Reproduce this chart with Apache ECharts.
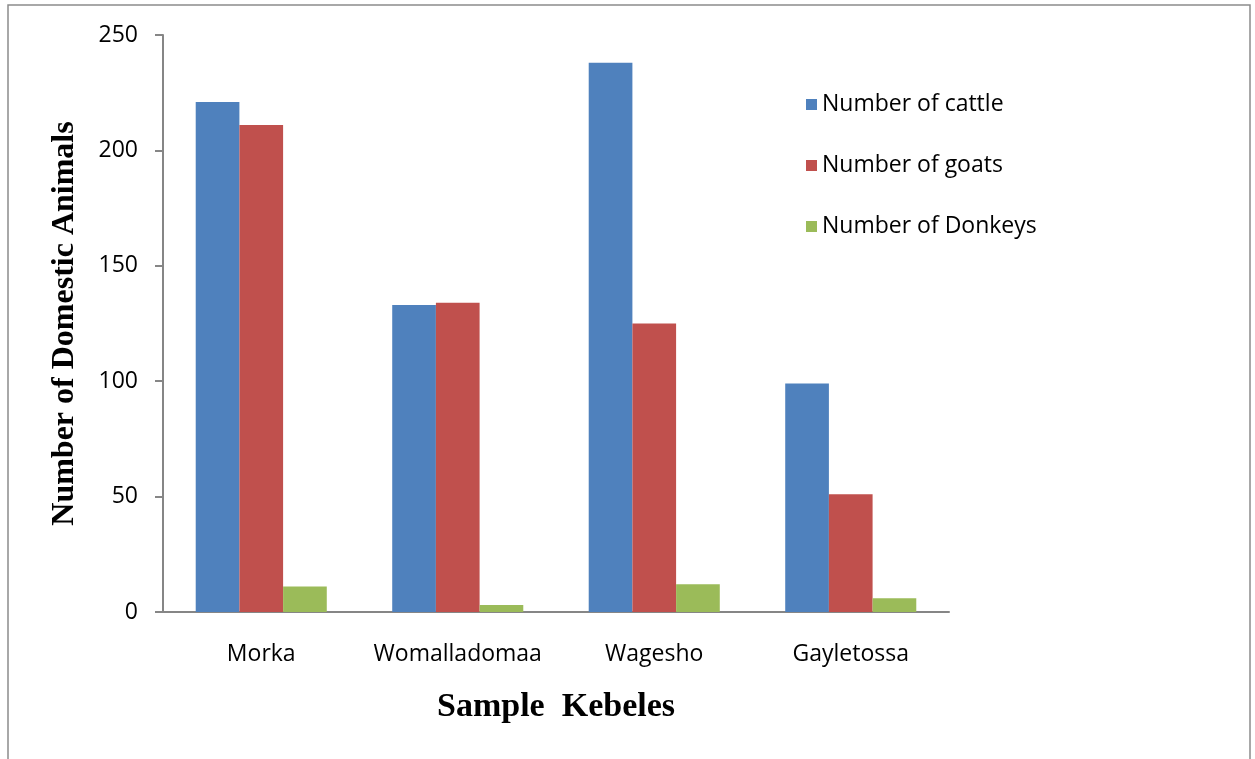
<!DOCTYPE html>
<html>
<head>
<meta charset="utf-8">
<script src="https://cdn.jsdelivr.net/npm/echarts@6/dist/echarts.min.js"></script>
<style>
html,body{margin:0;padding:0;background:#fff;}
#chart{width:1255px;height:759px;}
</style>
</head>
<body>
<div id="chart"></div>
<script>
const categories = ["Morka", "Womalladomaa", "Wagesho", "Gayletossa"];
const cattle = [221, 133, 238, 99];
const goats = [211, 134, 125, 51];
const donkeys = [11, 3, 12, 6];
const seriesNames = ["Number of cattle", "Number of goats", "Number of Donkeys"];
const yTicks = [0, 50, 100, 150, 200, 250];

const chart = echarts.init(document.getElementById('chart'), null, {renderer: 'canvas'});
const axisColor = '#868686';
const labelFont = '"Open Sans", "Noto Sans", sans-serif';
chart.setOption({
  animation: false,
  backgroundColor: '#fff',
  graphic: [{
    type: 'rect', silent: true,
    shape: {x: 8, y: 5, width: 1242, height: 820},
    style: {fill: 'none', stroke: '#8c8c8c', lineWidth: 1.5}
  }],
  grid: {left: 163, right: 306, top: 35, bottom: 147, containLabel: false},
  legend: {
    orient: 'vertical', left: 801, top: 88,
    itemWidth: 11, itemHeight: 11, itemGap: 38, icon: 'rect',
    data: seriesNames,
    textStyle: {fontFamily: labelFont, fontSize: 23, color: '#000', lineHeight: 22}
  },
  xAxis: {
    type: 'category', data: categories,
    name: 'Sample  Kebeles', nameLocation: 'middle', nameGap: 78,
    nameTextStyle: {fontFamily: '"Liberation Serif", "Times New Roman", serif', fontWeight: 'bold', fontSize: 34, color: '#000'},
    axisLine: {lineStyle: {color: axisColor, width: 2}},
    axisTick: {show: false},
    axisLabel: {fontFamily: labelFont, fontSize: 23, color: '#000', margin: 31, interval: 0}
  },
  yAxis: {
    type: 'value', min: yTicks[0], max: yTicks[yTicks.length-1], interval: 50,
    name: 'Number of Domestic Animals', nameLocation: 'middle', nameGap: 82,
    nameTextStyle: {fontFamily: '"Liberation Serif", "Times New Roman", serif', fontWeight: 'bold', fontSize: 32, color: '#000'},
    axisLine: {show: true, lineStyle: {color: axisColor, width: 2}},
    axisTick: {show: true, inside: false, length: 8, lineStyle: {color: axisColor, width: 2}},
    splitLine: {show: false},
    axisLabel: {fontFamily: labelFont, fontSize: 23, color: '#000', margin: 25}
  },
  series: [
    {name: seriesNames[0], type: 'bar', data: cattle, itemStyle: {color: '#4F81BD'}, barGap: '0%', barCategoryGap: '33.3%'},
    {name: seriesNames[1], type: 'bar', data: goats, itemStyle: {color: '#C0504D'}, barGap: '0%', barCategoryGap: '33.3%'},
    {name: seriesNames[2], type: 'bar', data: donkeys, itemStyle: {color: '#9BBB59'}, barGap: '0%', barCategoryGap: '33.3%'}
  ]
});
</script>
</body>
</html>
